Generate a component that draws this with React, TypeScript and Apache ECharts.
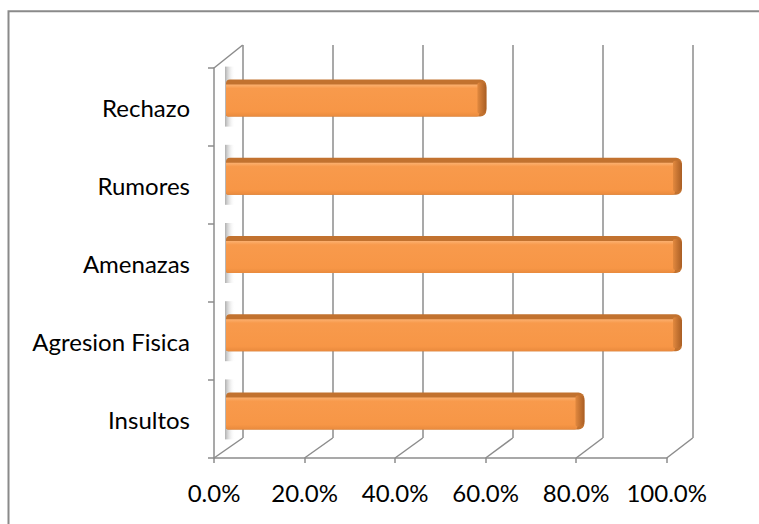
import React, { useEffect, useRef } from "react";
import * as echarts from "echarts";

const categories = ["Insultos", "Agresion Fisica", "Amenazas", "Rumores", "Rechazo"];
const values = [78.6, 100, 100, 100, 57.1];
const xTicks = [0, 20, 40, 60, 80, 100];

const W = 759;
const H = 524;
const FRONT = { left: 214, top: 68, right: 666.7, bottom: 458 };
const BACK = { left: 242.7, top: 45, right: 692.7, bottom: 438 };
const BARS = { left: 226, top: 59, right: 682, bottom: 450 };
const AXIS_COLOR = "#8c8c8c";
const FONT = "Lato";

export default function App() {
  const ref = useRef<HTMLDivElement>(null);
  useEffect(() => {
    if (!ref.current) return;
    const chart = echarts.init(ref.current, null, { renderer: "svg" });
    const barData = values.map((v, i) => [v, i]);
    const tickData = xTicks.map((v) => [v, 0]);

    const option: any = {
      animation: false,
      backgroundColor: "#ffffff",
      grid: [
        { left: FRONT.left, top: FRONT.top, right: W - FRONT.right, bottom: H - FRONT.bottom },
        { left: BACK.left, top: BACK.top, right: W - BACK.right, bottom: H - BACK.bottom },
        { left: BARS.left, top: BARS.top, right: W - BARS.right, bottom: H - BARS.bottom },
      ],
      xAxis: [
        {
          gridIndex: 0,
          type: "value",
          min: 0,
          max: 100,
          interval: 20,
          axisLine: { show: true, lineStyle: { color: AXIS_COLOR, width: 1.5 } },
          axisTick: { show: true, length: 5, lineStyle: { color: AXIS_COLOR, width: 1.5 } },
          splitLine: { show: false },
          axisLabel: {
            formatter: (v: number) => v.toFixed(1) + "%",
            fontFamily: FONT,
            fontSize: 24,
            color: "#000",
            margin: 22,
          },
        },
        {
          gridIndex: 1,
          type: "value",
          min: 0,
          max: 100,
          interval: 20,
          axisLine: { show: false },
          axisTick: { show: false },
          axisLabel: { show: false },
          splitLine: { show: true, lineStyle: { color: AXIS_COLOR, width: 1.5 } },
        },
        { gridIndex: 2, type: "value", min: 0, max: 100, show: false },
      ],
      yAxis: [
        {
          gridIndex: 0,
          type: "category",
          data: categories,
          axisLine: { show: true, lineStyle: { color: AXIS_COLOR, width: 1.5 } },
          axisTick: { show: true, length: 6, lineStyle: { color: AXIS_COLOR, width: 1.5 } },
          axisLabel: { fontFamily: FONT, fontSize: 24, color: "#000", margin: 24 },
          splitLine: { show: false },
        },
        { gridIndex: 1, type: "category", data: categories, show: false },
        { gridIndex: 2, type: "category", data: categories, show: false },
      ],
      graphic: [
        {
          type: "rect",
          shape: { x: 8.5, y: 11.3, width: 900, height: 700 },
          style: { fill: "none", stroke: "#8a8a8a", lineWidth: 2 },
          silent: true,
          z: -10,
        },
      ],
      series: [
        {
          type: "custom",
          xAxisIndex: 0,
          yAxisIndex: 0,
          data: tickData,
          z: 1,
          renderItem: (params: any, api: any) => {
            const v = api.value(0);
            const p = api.coord([v, 0]);
            const cs = params.coordSys;
            const bx = BACK.left + (v / 100) * (BACK.right - BACK.left);
            const children: any[] = [
              {
                type: "line",
                shape: { x1: p[0], y1: cs.y + cs.height, x2: bx, y2: BACK.bottom },
                style: { stroke: AXIS_COLOR, lineWidth: 1.5 },
              },
            ];
            if (params.dataIndex === 0) {
              children.push({
                type: "line",
                shape: { x1: cs.x, y1: cs.y, x2: BACK.left, y2: BACK.top },
                style: { stroke: AXIS_COLOR, lineWidth: 1.5 },
              });
            }
            return { type: "group", children };
          },
        },
        {
          type: "custom",
          xAxisIndex: 2,
          yAxisIndex: 2,
          data: barData,
          z: 5,
          renderItem: (params: any, api: any) => {
            const v = api.value(0);
            const i = api.value(1);
            const end = api.coord([v, i]);
            const start = api.coord([0, i]);
            const yc = end[1];
            const x0 = start[0];
            const x1 = end[0];
            const bh = 37;
            const yT = yc - bh / 2;
            const yB = yc + bh / 2;
            const capW = 9;
            return {
              type: "group",
              children: [
                {
                  type: "rect",
                  shape: { x: x0 - 1, y: yT - 13, width: 10, height: bh + 23 },
                  style: {
                    fill: new echarts.graphic.LinearGradient(0, 0, 1, 0, [
                      { offset: 0, color: "rgba(110,110,110,0.55)" },
                      { offset: 1, color: "rgba(255,255,255,0)" },
                    ]),
                  },
                },
                {
                  type: "rect",
                  shape: { x: x0, y: yT, width: x1 - x0, height: bh, r: [4, 6, 6, 2] },
                  style: { fill: "#c2722f" },
                },
                {
                  type: "rect",
                  shape: { x: x0, y: yT + 5, width: x1 - x0 - capW + 2, height: bh - 5, r: [0, 0, 3, 2] },
                  style: {
                    fill: new echarts.graphic.LinearGradient(0, 0, 0, 1, [
                      { offset: 0, color: "#fcb06f" },
                      { offset: 0.12, color: "#f89a4c" },
                      { offset: 0.85, color: "#f79646" },
                      { offset: 1, color: "#e98a3d" },
                    ]),
                  },
                },
                {
                  type: "rect",
                  shape: { x: x1 - capW, y: yT + 3, width: capW, height: bh - 6, r: [2, 5, 5, 2] },
                  style: {
                    fill: new echarts.graphic.LinearGradient(0, 0, 1, 0, [
                      { offset: 0, color: "#e2893f" },
                      { offset: 1, color: "#a95e24" },
                    ]),
                  },
                },
              ],
            };
          },
        },
      ],
    };
    chart.setOption(option);
    return () => chart.dispose();
  }, []);
  return (
    <div
      ref={ref}
      style={{ position: "fixed", left: 0, top: 0, width: W, height: H }}
    />
  );
}
